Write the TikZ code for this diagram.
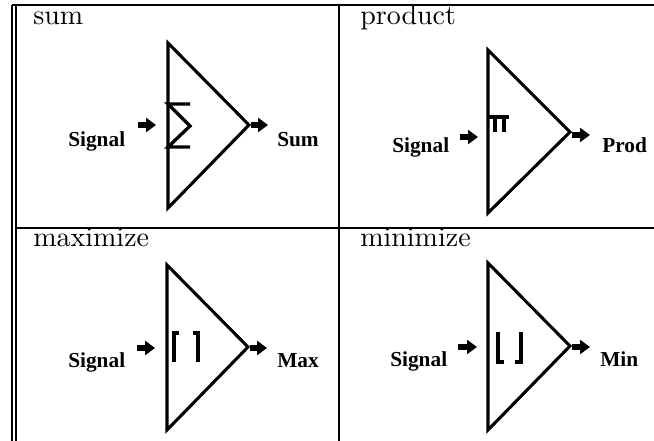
\documentclass[tikz,border=0pt]{standalone}
\usepackage{fontspec}
\usepackage{graphicx}
\newfontfamily\lblfont{Liberation Serif}
\usetikzlibrary{arrows.meta,positioning,calc}
\newcommand{\ttl}[1]{\scalebox{2.1}{\fontsize{10}{12}\selectfont #1}}

\begin{document}
\begin{tikzpicture}[x=0.75pt,y=-0.75pt,
    frame/.style={line width=1.5pt},
    gate/.style={line width=2.3pt, line join=miter},
    glyph/.style={line width=2.5pt},
    blk/.style={line width=5pt,-{Triangle[length=7.5pt,width=10.5pt]}},
    title/.style={anchor=base west, inner sep=0pt},
    lbl/.style={anchor=base west, inner sep=0pt, font=\lblfont\bfseries\fontsize{16}{19}\selectfont}]
    \useasboundingbox (0,0) rectangle (654,441);

    % Grid
    \draw[frame] (12,5) -- (12,441);
    \draw[frame] (16,5) -- (16,441);
    \draw[frame] (12,5) -- (654,5);
    \draw[frame] (16,228) -- (654,228);
    \draw[frame] (339,5) -- (339,441);

    % sum
    \node[title] (tsum) at (33,25) {\ttl{sum}};
    \coordinate (sumT) at (168,43);
    \coordinate (sumB) at (168,208);
    \coordinate (sumA) at (249,125);
    \draw[gate] (sumT) -- (sumA) -- (sumB) -- cycle;
    \draw[glyph] (190,104) -- (168,104) -- (190,126) -- (168,147) -- (190,147);
    \node[lbl] (sumsig) at (68,147) {Signal};
    \node[lbl] (sumout) at (277,147) {Sum};
    \coordinate (sumi) at (138,125);
    \coordinate (sumo) at (251,125);
    \draw[blk] (sumi) -- ++(18,0);
    \draw[blk] (sumo) -- ++(17,0);

    % product
    \node[title] (tprod) at (360,25) {\ttl{product}};
    \coordinate (prodT) at (488,50);
    \coordinate (prodB) at (488,213);
    \coordinate (prodA) at (570,132);
    \draw[gate] (prodT) -- (prodA) -- (prodB) -- cycle;
    \draw[glyph] (488,117) -- (509,117);
    \draw[glyph] (495,117) -- (495,132);
    \draw[glyph] (504,117) -- (504,132);
    \node[lbl] (prodsig) at (392,153) {Signal};
    \node[lbl] (prodout) at (602,153) {Prod};
    \coordinate (prodi) at (460,137);
    \coordinate (prodo) at (572,135);
    \draw[blk] (prodi) -- ++(18,0);
    \draw[blk] (prodo) -- ++(18,0);

    % maximize
    \node[title] (tmax) at (33,247) {\ttl{maximize}};
    \coordinate (maxT) at (167,265);
    \coordinate (maxB) at (167,430);
    \coordinate (maxA) at (248,347);
    \draw[gate] (maxT) -- (maxA) -- (maxB) -- cycle;
    \draw[glyph] (179,333) -- (174,333) -- (174,362);
    \draw[glyph] (193,333) -- (198,333) -- (198,362);
    \node[lbl] (maxsig) at (68,368) {Signal};
    \node[lbl] (maxout) at (277,368) {Max};
    \coordinate (maxi) at (137,348);
    \coordinate (maxo) at (250,348);
    \draw[blk] (maxi) -- ++(18,0);
    \draw[blk] (maxo) -- ++(17,0);

    % minimize
    \node[title] (tmin) at (360,247) {\ttl{minimize}};
    \coordinate (minT) at (488,263);
    \coordinate (minB) at (488,430);
    \coordinate (minA) at (570,346);
    \draw[gate] (minT) -- (minA) -- (minB) -- cycle;
    \draw[glyph] (498,332) -- (498,362) -- (504,362);
    \draw[glyph] (521,332) -- (521,362) -- (515,362);
    \node[lbl] (minsig) at (390,367) {Signal};
    \node[lbl] (minout) at (600,367) {Min};
    \coordinate (mini) at (458,347);
    \coordinate (mino) at (572,347);
    \draw[blk] (mini) -- ++(19,0);
    \draw[blk] (mino) -- ++(18,0);
\end{tikzpicture}
\end{document}
